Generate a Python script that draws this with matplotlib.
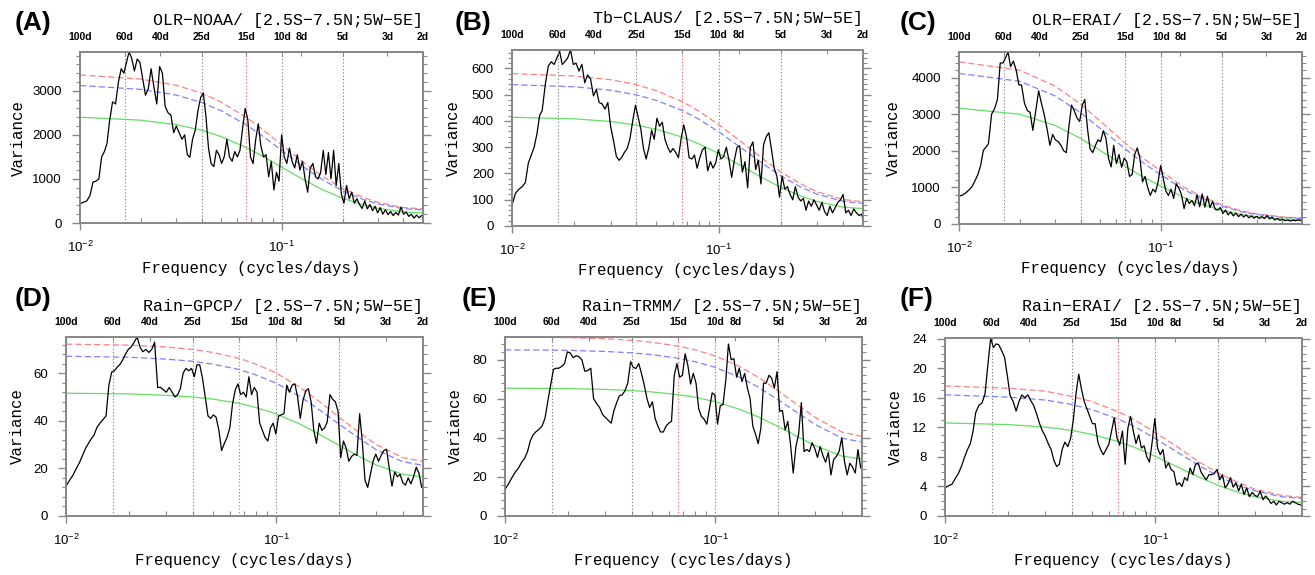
import matplotlib
matplotlib.use("Agg")
import matplotlib.pyplot as plt
import numpy as np
from matplotlib.ticker import FixedLocator, MultipleLocator, NullLocator, NullFormatter

W, H = 1315, 575

# frequencies (cycles/day) of the spectral estimates
freq = [0.0100, 0.0104, 0.0108, 0.0112, 0.0116, 0.0120, 0.0124, 0.0128, 0.0132, 0.0136,
        0.0140, 0.0145, 0.0150, 0.0155, 0.0160, 0.0165, 0.0170, 0.0175, 0.0180, 0.0186,
        0.0192, 0.0198, 0.0204, 0.0211, 0.0218, 0.0225, 0.0232, 0.0240, 0.0248, 0.0256,
        0.0264, 0.0273, 0.0282, 0.0291, 0.0300, 0.0310, 0.0320, 0.0330, 0.0340, 0.0350,
        0.0361, 0.0372, 0.0384, 0.0396, 0.0408, 0.0420, 0.0433, 0.0446, 0.0460, 0.0474,
        0.0488, 0.0503, 0.0518, 0.0534, 0.0550, 0.0567, 0.0584, 0.0602, 0.0620, 0.0639,
        0.0658, 0.0678, 0.0699, 0.0720, 0.0742, 0.0764, 0.0787, 0.0811, 0.0835, 0.0860,
        0.0886, 0.0913, 0.0940, 0.0968, 0.0997, 0.1027, 0.1058, 0.1090, 0.1123, 0.1157,
        0.1192, 0.1228, 0.1265, 0.1303, 0.1342, 0.1382, 0.1424, 0.1467, 0.1511, 0.1556,
        0.1603, 0.1651, 0.1700, 0.1751, 0.1804, 0.1858, 0.1914, 0.1971, 0.2030, 0.2091,
        0.2154, 0.2218, 0.2285, 0.2353, 0.2424, 0.2497, 0.2572, 0.2649, 0.2728, 0.2810,
        0.2894, 0.2981, 0.3070, 0.3162, 0.3257, 0.3355, 0.3455, 0.3559, 0.3666, 0.3776,
        0.3889, 0.4006, 0.4126, 0.4250, 0.4377, 0.4509, 0.4644, 0.4783, 0.4927, 0.5000]

olr_noaa = [440, 470, 500, 620, 930, 950, 1000, 1500, 1620, 1800,
            2300, 2750, 2700, 3200, 3500, 3400, 3650, 3880, 3750, 3450,
            3720, 3650, 3300, 2900, 3050, 3500, 3100, 2700, 3550, 3400,
            2650, 2500, 2450, 2050, 2200, 2050, 1900, 2000, 1550, 1490,
            1900, 2100, 2550, 2850, 2950, 2450, 1700, 1350, 1280, 1650,
            1550, 1350, 1500, 1900, 1500, 1400, 1620, 1500, 1650, 2150,
            2600, 2350, 1500, 1350, 1900, 2250, 1750, 1500, 1550, 1050,
            1400, 750, 1150, 950, 2000, 1500, 1350, 1700, 1400, 1250,
            1550, 1200, 1400, 1000, 700, 1250, 1350, 1050, 1000, 1150,
            1650, 1100, 1600, 1000, 1650, 850, 1350, 650, 450, 850,
            550, 700, 450, 550, 420, 330, 500, 320, 420, 280,
            380, 230, 350, 200, 300, 190, 260, 170, 240, 180,
            360, 200, 250, 150, 200, 110, 180, 120, 170, 150]

tb_claus = [80, 125, 140, 150, 165, 240, 270, 300, 350, 420,
            440, 540, 610, 625, 615, 640, 665, 615, 625, 640,
            670, 615, 620, 590, 615, 545, 575, 560, 495, 520,
            470, 465, 445, 470, 380, 325, 265, 250, 262, 280,
            295, 330, 400, 460, 415, 370, 295, 255, 300, 365,
            330, 410, 380, 395, 330, 300, 280, 295, 280, 260,
            330, 385, 340, 260, 255, 270, 220, 260, 290, 300,
            210, 245, 220, 240, 290, 255, 265, 300, 250, 185,
            250, 300, 305, 205, 245, 145, 300, 320, 215, 250,
            160, 310, 340, 355, 290, 220, 190, 110, 190, 140,
            150, 120, 100, 150, 110, 95, 105, 60, 95, 75,
            100, 80, 60, 90, 55, 40, 75, 50, 70, 90,
            100, 120, 50, 60, 40, 65, 50, 40, 45, 25]

olr_erai = [760, 790, 850, 930, 1020, 1180, 1350, 1600, 2010, 2100,
            2200, 3000, 3150, 3400, 4400, 4400, 4540, 4700, 4300, 4450,
            4200, 3800, 3800, 3300, 3100, 3050, 2560, 3090, 3640, 3300,
            3000, 2600, 2150, 2450, 2300, 2250, 2150, 2000, 1950, 2650,
            3250, 3100, 2900, 2800, 3250, 3400, 2600, 2050, 1950, 2150,
            2300, 2250, 2550, 2350, 1800, 1560, 2150, 1650, 1900, 1550,
            1800, 1700, 1300, 1350, 1900, 2080, 1800, 1150, 1300, 1000,
            780, 950, 870, 1140, 1600, 1250, 900, 780, 950, 700,
            1100, 980, 800, 420, 700, 560, 640, 500, 800, 470,
            820, 460, 760, 450, 620, 400, 380, 450, 290, 380,
            250, 330, 220, 300, 200, 270, 190, 250, 170, 220,
            160, 210, 150, 200, 150, 230, 140, 180, 110, 150,
            100, 130, 90, 110, 80, 105, 90, 110, 95, 100]

rain_gpcp = [12.6, 15.0, 17.2, 20.0, 22.5, 25.5, 28.5, 30.5, 32.5, 34.0,
             37.0, 39.0, 40.5, 42.0, 55.0, 60.5, 61.0, 62.5, 63.5, 65.5,
             68.0, 70.0, 71.0, 73.0, 75.2, 71.0, 69.0, 70.0, 68.7, 70.0,
             73.0, 54.0, 54.0, 53.0, 52.0, 54.0, 52.0, 50.0, 51.0, 53.5,
             60.0, 62.0, 61.0, 62.0, 58.5, 63.5, 63.5, 58.0, 50.0, 42.0,
             41.0, 42.5, 41.5, 36.0, 27.5, 30.5, 33.0, 37.0, 47.0, 53.0,
             55.5, 51.0, 52.0, 50.0, 58.5, 51.0, 54.0, 52.0, 39.0, 36.0,
             33.0, 31.5, 37.0, 39.0, 34.5, 42.0, 42.5, 43.0, 55.0, 52.0,
             55.0, 55.5, 50.0, 41.0, 48.5, 52.5, 53.5, 48.0, 36.0, 30.5,
             39.0, 36.0, 37.0, 39.5, 51.0, 49.0, 48.0, 44.0, 24.5, 31.5,
             28.5, 23.0, 25.0, 26.0, 25.5, 43.0, 31.0, 15.0, 12.0, 17.5,
             23.0, 26.0, 23.0, 25.5, 27.5, 28.0, 20.0, 12.5, 18.5, 16.5,
             17.5, 14.0, 13.0, 16.0, 13.5, 16.5, 20.5, 18.0, 12.0, 13.3]

rain_trmm = [13.6, 16.5, 19.7, 22.5, 24.6, 27.5, 29.5, 33.0, 38.5, 41.5,
             43.0, 44.3, 46.0, 50.0, 59.0, 67.0, 75.0, 75.6, 75.6, 76.5,
             78.0, 84.0, 83.5, 81.0, 82.0, 81.5, 80.0, 74.0, 74.5, 75.6,
             60.0, 57.5, 55.5, 52.0, 50.5, 49.0, 47.5, 54.0, 58.0, 61.5,
             62.0, 64.0, 68.0, 79.0, 76.0, 75.5, 78.0, 73.0, 67.0, 60.0,
             55.5, 58.5, 50.0, 46.0, 43.0, 43.0, 46.0, 47.5, 48.5, 72.0,
             78.0, 71.0, 72.0, 83.0, 77.0, 67.5, 73.0, 68.0, 55.0, 51.0,
             49.5, 47.0, 55.0, 63.0, 62.0, 47.0, 56.5, 57.0, 69.0, 88.0,
             80.0, 80.5, 71.0, 75.6, 68.8, 73.0, 65.5, 60.0, 46.0, 42.0,
             37.0, 45.0, 68.0, 68.0, 72.0, 70.5, 65.4, 73.9, 53.5, 54.0,
             44.0, 48.4, 36.5, 22.0, 35.5, 42.0, 58.0, 33.0, 34.0, 33.0,
             37.5, 34.5, 30.0, 35.5, 31.0, 27.5, 32.5, 21.0, 29.0, 30.5,
             33.0, 40.0, 28.0, 21.0, 27.0, 25.0, 22.0, 34.0, 24.6, 25.0]

rain_erai = [3.8, 4.1, 4.3, 5.1, 5.8, 6.8, 8.0, 9.0, 9.8, 11.5,
             14.0, 15.0, 15.3, 16.5, 20.5, 24.1, 22.8, 23.3, 23.2, 22.4,
             21.5, 19.0, 16.3, 15.5, 14.2, 15.5, 16.4, 16.0, 16.4, 15.6,
             15.0, 13.8, 12.5, 11.5, 10.8, 9.8, 9.0, 7.5, 6.7, 7.0,
             9.0, 10.0, 9.4, 10.5, 13.0, 16.5, 19.2, 17.2, 15.5, 14.5,
             13.5, 12.5, 12.5, 10.0, 9.0, 8.3, 9.0, 9.7, 11.5, 13.3,
             10.6, 9.6, 11.5, 7.0, 11.9, 13.5, 11.5, 9.8, 11.0, 9.2,
             9.5, 8.0, 7.3, 10.0, 13.2, 9.2, 8.3, 9.0, 6.5, 7.2,
             6.3, 6.0, 4.2, 4.5, 4.0, 5.2, 4.8, 6.5, 5.6, 7.0,
             7.2, 6.0, 5.4, 4.9, 5.6, 5.6, 5.8, 6.3, 4.9, 5.6,
             3.8, 4.3, 5.2, 3.9, 4.5, 3.4, 4.3, 2.9, 3.8, 2.6,
             3.2, 2.8, 2.6, 3.4, 2.2, 2.7, 2.3, 1.7, 2.0, 1.5,
             2.0, 1.8, 1.6, 1.8, 1.6, 2.0, 1.8, 1.6, 1.5, 1.4]

# red-noise background (green) and confidence curves (blue, red)
ci_freq = [0.01, 0.02, 0.03, 0.04, 0.05, 0.067, 0.08, 0.1, 0.13, 0.16, 0.2, 0.25, 0.3, 0.4, 0.5]

olr_noaa_green = [2400, 2333, 2232, 2105, 1961, 1707, 1520, 1264, 963, 750, 561, 418, 333, 250, 229]
olr_noaa_blue = [3120, 3033, 2902, 2737, 2549, 2219, 1976, 1643, 1252, 975, 729, 543, 433, 325, 298]
olr_noaa_red = [3360, 3266, 3125, 2947, 2745, 2390, 2128, 1770, 1348, 1050, 785, 585, 466, 350, 321]

tb_claus_green = [414, 408, 398, 384, 368, 338, 313, 276, 227, 187, 147, 114, 93, 72, 66]
tb_claus_blue = [538, 530, 517, 499, 478, 439, 407, 359, 295, 243, 191, 148, 121, 94, 86]
tb_claus_red = [580, 571, 557, 538, 515, 473, 438, 386, 318, 262, 206, 160, 130, 101, 92]

olr_erai_green = [3165, 3000, 2690, 2340, 2010, 1570, 1310, 1035, 720, 535, 375, 258, 198, 138, 118]
olr_erai_blue = [4115, 3900, 3497, 3042, 2613, 2041, 1703, 1346, 936, 696, 488, 335, 257, 179, 153]
olr_erai_red = [4431, 4200, 3766, 3276, 2814, 2198, 1834, 1449, 1008, 749, 525, 361, 277, 193, 165]

rain_gpcp_green = [51.6, 51.3, 50.7, 50.0, 49.1, 47.3, 45.6, 42.9, 38.6, 34.4, 29.6, 24.9, 21.4, 17.5, 16.4]
rain_gpcp_blue = [67.1, 66.7, 65.9, 65.0, 63.8, 61.5, 59.3, 55.8, 50.2, 44.7, 38.5, 32.4, 27.8, 22.8, 21.3]
rain_gpcp_red = [72.2, 71.8, 71.0, 70.0, 68.7, 66.2, 63.8, 60.1, 54.0, 48.2, 41.4, 34.9, 30.0, 24.5, 23.0]

rain_trmm_green = [65.4, 65.2, 64.8, 64.2, 63.5, 62.1, 60.8, 58.5, 54.7, 50.8, 45.7, 40.3, 36.0, 30.7, 29.1]
rain_trmm_blue = [85.0, 84.8, 84.2, 83.5, 82.6, 80.7, 79.0, 76.1, 71.1, 66.0, 59.4, 52.4, 46.8, 39.9, 37.8]
rain_trmm_red = [91.6, 91.3, 90.7, 89.9, 88.9, 86.9, 85.1, 81.9, 76.6, 71.1, 64.0, 56.4, 50.4, 43.0, 40.7]

rain_erai_green = [12.6, 12.38, 12.04, 11.59, 11.06, 10.06, 9.27, 8.08, 6.54, 5.32, 4.15, 3.19, 2.59, 1.99, 1.82]
rain_erai_blue = [16.4, 16.1, 15.7, 15.1, 14.4, 13.1, 12.1, 10.5, 8.5, 6.9, 5.4, 4.1, 3.4, 2.6, 2.4]
rain_erai_red = [17.6, 17.3, 16.9, 16.2, 15.5, 14.1, 13.0, 11.3, 9.2, 7.4, 5.8, 4.5, 3.6, 2.8, 2.5]

period_ticks = [100, 60, 40, 25, 15, 10, 8, 5, 3, 2]
period_labels = ["100d", "60d", "40d", "25d", "15d", "10d", "8d", "5d", "3d", "2d"]
marked_periods = [60, 25, 10, 5]
red_period = 15

titles = ["OLR\u2212NOAA/ [2.5S\u22127.5N;5W\u22125E]", "Tb\u2212CLAUS/ [2.5S\u22127.5N;5W\u22125E]",
          "OLR\u2212ERAI/ [2.5S\u22127.5N;5W\u22125E]", "Rain\u2212GPCP/ [2.5S\u22127.5N;5W\u22125E]",
          "Rain\u2212TRMM/ [2.5S\u22127.5N;5W\u22125E]", "Rain\u2212ERAI/ [2.5S\u22127.5N;5W\u22125E]"]
letters = ["(A)", "(B)", "(C)", "(D)", "(E)", "(F)"]

panels = [
    (olr_noaa, olr_noaa_red, olr_noaa_blue, olr_noaa_green, 1000, 200),
    (tb_claus, tb_claus_red, tb_claus_blue, tb_claus_green, 100, 20),
    (olr_erai, olr_erai_red, olr_erai_blue, olr_erai_green, 1000, 200),
    (rain_gpcp, rain_gpcp_red, rain_gpcp_blue, rain_gpcp_green, 20, 4),
    (rain_trmm, rain_trmm_red, rain_trmm_blue, rain_trmm_green, 20, 4),
    (rain_erai, rain_erai_red, rain_erai_blue, rain_erai_green, 4, 1),
]

# layout in pixels: left, top, right, bottom of each plot box
boxes = [(80, 52, 423, 223), (512, 50, 863, 226), (959, 52, 1302, 224),
         (66, 337, 423, 516), (505, 337, 862, 516), (945, 338, 1302, 516)]
letter_xy = [(15, 23), (455, 23), (900, 23), (15, 299), (462, 299), (900, 299)]
ylabel_x = [18, 453, 893, 17, 455, 895]

SANS = "Liberation Sans"
MONO = "Liberation Mono"
GREY = "#888888"

fig = plt.figure(figsize=(W / 100, H / 100), dpi=100)


def fx(x):
    return x / W


def fy(y):
    return 1 - y / H


for i, (spec, red, blue, green, major, minor) in enumerate(panels):
    l, t, r, b = boxes[i]
    ax = fig.add_axes([fx(l), fy(b), fx(r) - fx(l), fy(t) - fy(b)])

    for p in marked_periods:
        ax.axvline(1 / p, color="#777777", lw=0.8, ls=(0, (1, 2)), zorder=1)
    ax.axvline(1 / red_period, color="#ff5050", lw=0.8, ls=(0, (1, 2)), zorder=1)

    ax.plot(ci_freq, red, color="#ff8080", lw=0.9, ls=(0, (5, 2.5)), zorder=2)
    ax.plot(ci_freq, blue, color="#8080ff", lw=0.9, ls=(0, (5, 2.5)), zorder=2)
    ax.plot(ci_freq, green, color="#66dd66", lw=0.9, zorder=2)
    ax.plot(freq, spec, color="black", lw=0.9, zorder=3)

    ax.set_xscale("log")
    ax.set_xlim(0.01, 0.5)
    ax.set_ylim(0, max(max(spec), max(red)))

    ax.yaxis.set_major_locator(MultipleLocator(major))
    ax.yaxis.set_minor_locator(MultipleLocator(minor))
    ax.tick_params(axis="y", which="major", direction="out", length=6, width=1.0,
                   color=GREY, left=True, right=True, labelsize=9.5, pad=7)
    ax.tick_params(axis="y", which="minor", direction="out", length=3, width=0.8,
                   color=GREY, left=True, right=True)
    ax.xaxis.set_major_locator(FixedLocator([0.01, 0.1]))
    ax.xaxis.set_minor_locator(FixedLocator([0.02, 0.03, 0.04, 0.05, 0.06, 0.07, 0.08, 0.09,
                                             0.2, 0.3, 0.4, 0.5]))
    ax.xaxis.set_minor_formatter(NullFormatter())
    ax.tick_params(axis="x", which="major", direction="out", length=5, width=1.0,
                   color=GREY, labelsize=9.5, pad=7)
    ax.tick_params(axis="x", which="minor", direction="in", length=3.5, width=0.8,
                   color=GREY)
    for lab in ax.get_xticklabels() + ax.get_yticklabels():
        lab.set_fontfamily(SANS)
    for s in ax.spines.values():
        s.set_color(GREY)
        s.set_linewidth(1.3)

    top = ax.twiny()
    top.set_xscale("log")
    top.set_xlim(0.01, 0.5)
    top.xaxis.set_major_locator(FixedLocator([1 / p for p in period_ticks]))
    top.xaxis.set_minor_locator(NullLocator())
    top.set_xticklabels(period_labels, fontsize=7.5, fontweight="bold", fontfamily=SANS)
    top.tick_params(axis="x", which="major", direction="in", length=3, width=0.8,
                    color=GREY, pad=7)
    for s in top.spines.values():
        s.set_color(GREY)
        s.set_linewidth(1.3)

    fig.text(fx(r), fy(t - 31), titles[i], ha="right", va="center",
             fontsize=12, fontfamily=MONO)
    fig.text(fx((l + r) / 2), fy(b + 45), "Frequency (cycles/days)", ha="center",
             va="center", fontsize=11.3, fontfamily=MONO)
    fig.text(fx(ylabel_x[i]), fy((t + b) / 2), "Variance", ha="center", va="center",
             rotation=90, fontsize=11.3, fontfamily=MONO)
    lx, ly = letter_xy[i]
    fig.text(fx(lx), fy(ly), letters[i], ha="left", va="center", fontsize=19,
             fontweight="bold", fontfamily=SANS)

fig.savefig("out.png", dpi=100)
